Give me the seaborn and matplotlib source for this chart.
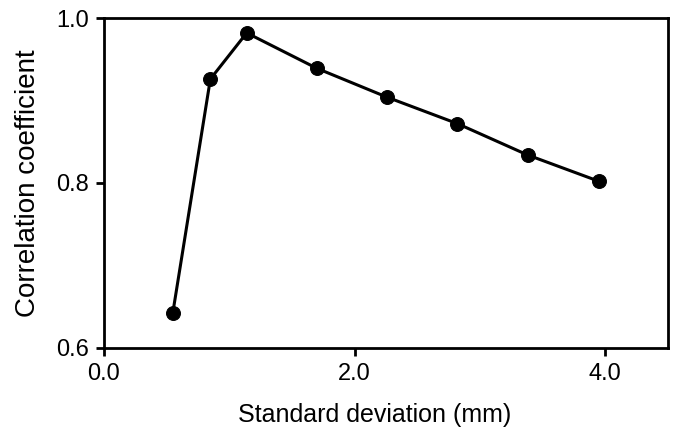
import matplotlib
matplotlib.use("Agg")
import matplotlib.pyplot as plt
import seaborn as sns
import pandas as pd

std_dev = [0.55, 0.85, 1.14, 1.70, 2.26, 2.82, 3.38, 3.95]
corr = [0.642, 0.926, 0.982, 0.939, 0.904, 0.872, 0.834, 0.802]
x_ticks = [0.0, 2.0, 4.0]
y_ticks = [0.6, 0.8, 1.0]

sns.set_style("ticks")
plt.rcParams["font.family"] = ["Liberation Sans", "DejaVu Sans"]

df = pd.DataFrame({"sd": std_dev, "r": corr})

fig = plt.figure(figsize=(6.74, 4.30), dpi=100)
ax = fig.add_axes([0.154, 0.191, 0.837, 0.767])
sns.lineplot(data=df, x="sd", y="r", ax=ax, color="black", linewidth=2.2,
             marker="o", markersize=10, markeredgecolor="black", sort=False)

ax.set_xlim(0.0, 4.5)
ax.set_ylim(0.6, 1.0)
ax.set_xticks(x_ticks)
ax.set_xticklabels([f"{v:.1f}" for v in x_ticks])
ax.set_yticks(y_ticks)
ax.set_yticklabels([f"{v:.1f}" for v in y_ticks])
for s in ax.spines.values():
    s.set_visible(True)
    s.set_linewidth(2.0)
    s.set_color("black")
ax.tick_params(direction="out", length=5.5, width=2.0, labelsize=17,
               colors="black", labelcolor="black", pad=5.5)
ax.set_xlabel("Standard deviation (mm)", fontsize=18, color="black")
ax.set_ylabel("Correlation coefficient", fontsize=20, color="black")
ax.xaxis.set_label_coords(0.48, -0.168)
ax.yaxis.set_label_coords(-0.112, 0.5)

fig.savefig("out.png", dpi=100)
